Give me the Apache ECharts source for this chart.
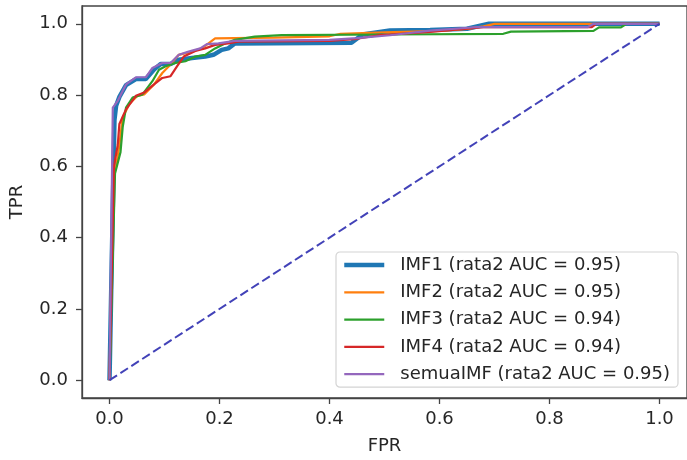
<!DOCTYPE html>
<html>
<head>
<meta charset="utf-8">
<script src="https://cdn.jsdelivr.net/npm/echarts@6/dist/echarts.min.js"></script>
<style>
html,body{margin:0;padding:0;background:#fff;}
#c{width:687px;height:460px;}
</style>
</head>
<body>
<div id="c"></div>
<script>
// ---- data ----
var seriesNames = ['IMF1 (rata2 AUC = 0.95)', 'IMF2 (rata2 AUC = 0.95)', 'IMF3 (rata2 AUC = 0.94)', 'IMF4 (rata2 AUC = 0.94)', 'semuaIMF (rata2 AUC = 0.95)'];
var tickValues = [0, 0.2, 0.4, 0.6, 0.8, 1.0];

var fprIMF1 = [0, 0.009, 0.012, 0.018, 0.03, 0.048, 0.066, 0.081, 0.093, 0.111, 0.126, 0.15, 0.174, 0.189, 0.204, 0.216, 0.228, 0.44, 0.46, 0.51, 0.583, 0.65, 0.69, 1.0];
var tprIMF1 = [0, 0.73, 0.77, 0.795, 0.828, 0.845, 0.845, 0.872, 0.887, 0.887, 0.899, 0.904, 0.908, 0.913, 0.927, 0.931, 0.945, 0.947, 0.97, 0.981, 0.983, 0.986, 1.0, 1.0];

var fprIMF2 = [0, 0.006, 0.012, 0.018, 0.024, 0.036, 0.051, 0.063, 0.081, 0.096, 0.108, 0.126, 0.15, 0.168, 0.18, 0.192, 0.3, 0.4, 0.42, 0.5, 0.6, 0.65, 0.68, 0.7, 1.0];
var tprIMF2 = [0, 0.56, 0.6, 0.66, 0.737, 0.775, 0.798, 0.802, 0.83, 0.862, 0.881, 0.913, 0.922, 0.931, 0.945, 0.959, 0.961, 0.965, 0.972, 0.976, 0.98, 0.986, 0.993, 1.0, 1.0];

var fprIMF3 = [0, 0.01, 0.02, 0.024, 0.03, 0.042, 0.06, 0.078, 0.09, 0.102, 0.12, 0.138, 0.156, 0.174, 0.192, 0.21, 0.228, 0.264, 0.313, 0.5, 0.716, 0.73, 0.88, 0.89, 0.93, 0.94, 1.0];
var tprIMF3 = [0, 0.58, 0.64, 0.71, 0.765, 0.793, 0.802, 0.839, 0.871, 0.881, 0.89, 0.895, 0.908, 0.913, 0.931, 0.945, 0.955, 0.964, 0.968, 0.97, 0.972, 0.978, 0.98, 0.99, 0.99, 1.0, 1.0];

var fprIMF4 = [0, 0.008, 0.015, 0.018, 0.03, 0.048, 0.063, 0.081, 0.096, 0.111, 0.123, 0.135, 0.156, 0.174, 0.192, 0.216, 0.234, 0.4, 0.45, 0.49, 0.583, 0.645, 0.685, 0.877, 0.885, 1.0];
var tprIMF4 = [0, 0.6, 0.66, 0.719, 0.76, 0.798, 0.807, 0.83, 0.848, 0.853, 0.881, 0.908, 0.924, 0.931, 0.941, 0.945, 0.95, 0.952, 0.958, 0.968, 0.977, 0.986, 0.991, 0.991, 1.0, 1.0];

var fprAll = [0, 0.006, 0.015, 0.03, 0.048, 0.066, 0.078, 0.096, 0.111, 0.126, 0.144, 0.165, 0.177, 0.198, 0.228, 0.4, 0.45, 0.51, 0.583, 0.67, 0.87, 0.88, 1.0];
var tprAll = [0, 0.765, 0.784, 0.83, 0.85, 0.85, 0.876, 0.89, 0.89, 0.913, 0.922, 0.931, 0.943, 0.945, 0.952, 0.955, 0.96, 0.968, 0.981, 0.991, 0.991, 1.0, 1.0];

var diagX = [0, 1];
var diagY = [0, 1];

var colors = ['#1f77b4', '#ff7f0e', '#2ca02c', '#d62728', '#9467bd'];
var widths = [4.5, 2.2, 2.2, 2.2, 2.2];

function pairs(xs, ys) { return xs.map(function (x, i) { return [x, ys[i]]; }); }

var curves = [
  pairs(fprIMF1, tprIMF1),
  pairs(fprIMF2, tprIMF2),
  pairs(fprIMF3, tprIMF3),
  pairs(fprIMF4, tprIMF4),
  pairs(fprAll, tprAll)
];

var FONT = 'DejaVu Sans';
var TXT = '#262626';
var FS = 18;

var series = curves.map(function (d, i) {
  return {
    name: seriesNames[i],
    type: 'line',
    data: d,
    symbol: 'none',
    showSymbol: false,
    silent: true,
    z: 2 + i,
    lineStyle: { color: colors[i], width: widths[i] },
    itemStyle: { color: colors[i] },
    emphasis: { disabled: true }
  };
});
series.push({
  name: 'diag',
  type: 'line',
  data: pairs(diagX, diagY),
  symbol: 'none',
  silent: true,
  z: 10,
  lineStyle: { color: '#4242b8', width: 2, type: [9, 4] },
  emphasis: { disabled: true }
});

var legendData = seriesNames.map(function (n, i) {
  return { name: n, lineStyle: { color: colors[i], width: widths[i] }, itemStyle: { opacity: 0 } };
});

var chart = echarts.init(document.getElementById('c'), null, { renderer: 'canvas' });
chart.setOption({
  animation: false,
  backgroundColor: '#ffffff',
  textStyle: { fontFamily: FONT },
  grid: {
    left: 79, top: 6, width: 609, height: 396,
    show: true, borderColor: '#444', borderWidth: 1.3, backgroundColor: 'transparent'
  },
  xAxis: {
    type: 'value', min: -0.05, max: 1.05,
    name: 'FPR', nameLocation: 'middle', nameGap: 39,
    nameTextStyle: { fontSize: FS, color: TXT, fontFamily: FONT },
    axisLine: { show: true, onZero: false, lineStyle: { color: '#444', width: 1.3 } },
    axisTick: { show: true, inside: false, length: 6, customValues: tickValues, lineStyle: { color: '#444', width: 1.3 } },
    axisLabel: { customValues: tickValues, margin: 12, fontSize: FS, color: TXT, fontFamily: FONT,
      formatter: function (v) { return v.toFixed(1); } },
    splitLine: { show: false }
  },
  yAxis: {
    type: 'value', min: -0.05, max: 1.05,
    name: 'TPR', nameLocation: 'middle', nameGap: 56,
    nameTextStyle: { fontSize: FS, color: TXT, fontFamily: FONT },
    axisLine: { show: true, onZero: false, lineStyle: { color: '#444', width: 1.3 } },
    axisTick: { show: true, inside: false, length: 6, customValues: tickValues, lineStyle: { color: '#444', width: 1.3 } },
    axisLabel: { customValues: tickValues, margin: 14, fontSize: FS, color: TXT, fontFamily: FONT,
      formatter: function (v) { return v.toFixed(1); } },
    splitLine: { show: false }
  },
  legend: {
    data: legendData,
    orient: 'vertical',
    left: 336, top: 252,
    padding: [4, 8, 4, 6],
    itemWidth: 40, itemHeight: 14, itemGap: 9.3,
    itemStyle: { opacity: 0 },
    backgroundColor: 'rgba(255,255,255,0.8)',
    borderColor: '#d4d4d4', borderWidth: 1.2, borderRadius: 4,
    selectedMode: false,
    textStyle: { fontSize: FS, color: TXT, fontFamily: FONT, lineHeight: 17, padding: [0, 0, 0, 11] }
  },
  series: series
});
</script>
</body>
</html>
